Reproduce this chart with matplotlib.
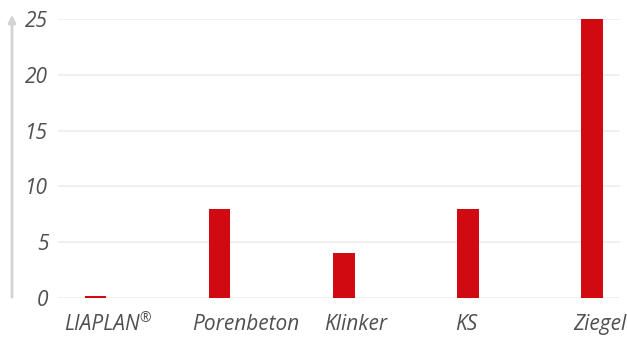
import matplotlib.pyplot as plt
import matplotlib.transforms as mtransforms
import numpy as np

categories = ["LIAPLAN", "Porenbeton", "Klinker", "KS", "Ziegel"]
values = [0.2, 8, 4, 8, 25]
yticks = [0, 5, 10, 15, 20, 25]
# the labels in the original are not centred under the bars (pixels)
label_shift = [6, 26, 12, -2, 8]

plt.rcParams['font.family'] = ['Open Sans', 'DejaVu Sans']

fig = plt.figure(figsize=(6.27, 3.38), dpi=100)
# axes placed to match the reference pixel layout
ax = fig.add_axes([58 / 627, 1 - 298 / 338, (620 - 58) / 627, (298 - 19) / 338])

x = np.arange(len(categories))
ax.bar(x, values, width=0.17, color='#d10a12', zorder=3)

ax.set_xlim(-0.306, 4.226)
ax.set_ylim(0, 25)
ax.set_yticks(yticks)
ax.set_yticklabels([str(t) for t in yticks], fontstyle='italic', fontsize=15, color='#505050')
ax.set_xticks(x)
ax.set_xticklabels(categories, fontstyle='italic', fontsize=15, color='#505050')
ax.tick_params(axis='both', length=0)
ax.tick_params(axis='y', pad=7)
ax.tick_params(axis='x', pad=11.5)

for lab, dx in zip(ax.get_xticklabels(), label_shift):
    lab.set_transform(lab.get_transform() + mtransforms.Affine2D().translate(dx, 0))

# registered sign as superscript after LIAPLAN
ax.annotate("®", xy=(1.0, 1.12), xycoords=ax.get_xticklabels()[0],
            ha='left', va='top', fontsize=10, color='#505050')

ax.grid(axis='y', color='#eeeeee', linewidth=1.2, zorder=0)
for s in ax.spines.values():
    s.set_visible(False)

# vertical arrow on the left
fig.patches.append(plt.matplotlib.patches.FancyArrowPatch(
    (12 / 627, 1 - 300 / 338), (12 / 627, 1 - 12 / 338),
    transform=fig.transFigure, arrowstyle='-|>', mutation_scale=11,
    color='#d3d3d3', linewidth=2))

fig.savefig('out.png', dpi=100)
